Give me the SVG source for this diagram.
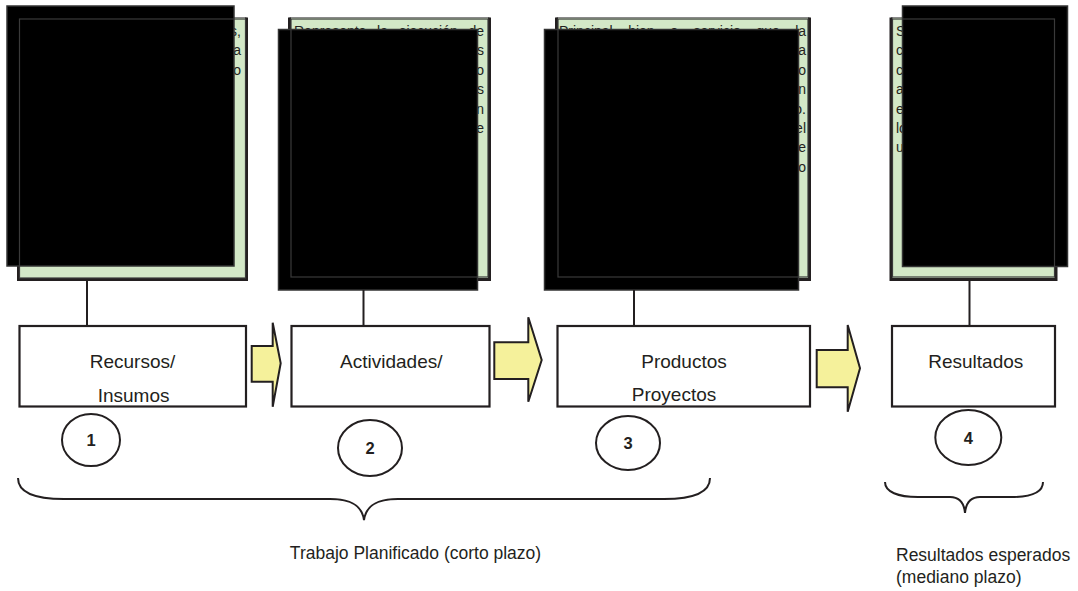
<svg xmlns="http://www.w3.org/2000/svg" width="1078" height="591" viewBox="0 0 1078 591">
<style>
.note{fill:#d3e8c7;stroke:none}
.noteb{fill:none;stroke:#231f20;stroke-width:3}
.notet{fill:none;stroke:#8a8a8a;stroke-width:1}
.mask{fill:#000;stroke:#333;stroke-width:1.5}
.inner{fill:none;stroke:#3a3a3a;stroke-width:1.2}
.box{fill:#fff;stroke:#231f20;stroke-width:2.2}
.lbl{font-family:"Liberation Sans",Arial,sans-serif;font-size:19px;fill:#231f20;text-anchor:middle}
.nt{font-family:"Liberation Sans",Arial,sans-serif;font-size:14px;fill:#231f20}
.end{text-anchor:end}
.arrow{fill:#f5f19b;stroke:#231f20;stroke-width:2;stroke-linejoin:miter}
.circ{fill:#fff;stroke:#231f20;stroke-width:2}
.num{font-family:"Liberation Sans",Arial,sans-serif;font-size:16.5px;font-weight:bold;fill:#231f20;text-anchor:middle}
.line{stroke:#231f20;stroke-width:2;fill:none}
.cap{font-family:"Liberation Sans",Arial,sans-serif;font-size:17.5px;fill:#231f20}
</style>

<g id="note1">
<rect class="note" x="18.5" y="17.5" width="228" height="262"/>
<path class="notet" d="M18.5,17.5 H246.5"/>
<path class="noteb" d="M18.5,17.5 V279.5 H246.5 V17.5"/>
<text class="nt end" x="241" y="36">s,</text>
<text class="nt end" x="241" y="55.4">a</text>
<text class="nt end" x="241" y="74.8">o</text>
<rect class="mask" x="7" y="6" width="227" height="260"/>
<rect class="inner" x="19.5" y="19" width="226" height="259"/>
</g>

<g id="note2">
<rect class="note" x="289.5" y="17.5" width="200" height="262"/>
<path class="notet" d="M289.5,17.5 H489.5"/>
<path class="noteb" d="M289.5,17.5 V279.5 H489.5 V17.5"/>
<text class="nt" x="294" y="35.5" word-spacing="6.8">Represente la ejecución de</text>
<text class="nt end" x="484" y="55.4">s</text>
<text class="nt end" x="484" y="74.8">o</text>
<text class="nt end" x="484" y="94.2">s</text>
<text class="nt end" x="484" y="113.6">n</text>
<text class="nt end" x="484" y="133">e</text>
<rect class="mask" x="278.5" y="29.5" width="199" height="260.5"/>
<rect class="inner" x="291" y="19" width="197" height="258"/>
</g>

<g id="note3">
<rect class="note" x="556.5" y="17.5" width="253" height="262"/>
<path class="notet" d="M556.5,17.5 H809.5"/>
<path class="noteb" d="M556.5,17.5 V279.5 H809.5 V17.5"/>
<text class="nt" x="559" y="35.5" word-spacing="11.6">Principal bien o servicio que la</text>
<text class="nt end" x="806" y="55.4">a</text>
<text class="nt end" x="806" y="74.8">o</text>
<text class="nt end" x="806" y="94.2">n</text>
<text class="nt end" x="806" y="113.6">o.</text>
<text class="nt end" x="806" y="133">el</text>
<text class="nt end" x="806" y="152.4">e</text>
<text class="nt end" x="806" y="171.8">o</text>
<rect class="mask" x="544.5" y="29.5" width="254" height="260.5"/>
<rect class="inner" x="558" y="19" width="250" height="258"/>
</g>

<g id="note4">
<rect class="note" x="891" y="17.5" width="165" height="262"/>
<path class="notet" d="M891,17.5 H1056"/>
<path class="noteb" d="M891,17.5 V279.5 H1056 V17.5"/>
<text class="nt" x="896" y="36">S</text>
<text class="nt" x="896" y="55.4">c</text>
<text class="nt" x="896" y="74.8">c</text>
<text class="nt" x="896" y="94.2">a</text>
<text class="nt" x="896" y="113.6">e</text>
<text class="nt" x="896" y="133">lo</text>
<text class="nt" x="896" y="152.4">u</text>
<rect class="mask" x="902.5" y="6" width="165" height="260.5"/>
<rect class="inner" x="892.5" y="19" width="162" height="258"/>
</g>

<g id="connectors">
<path class="line" d="M87,280 V326"/>
<path class="line" d="M363.5,290 V326"/>
<path class="line" d="M634,290 V326"/>
<path class="line" d="M969.5,280 V326"/>
<polygon class="arrow" points="251.7,346 272.7,346 272.7,322.7 280.7,363.3 272.7,406.7 272.7,381.7 251.7,381.7"/>
<polygon class="arrow" points="494.3,342.3 528.3,342.3 528.3,317.3 541.7,360 528.3,401.7 528.3,379 494.3,379"/>
<polygon class="arrow" points="816.7,350 847.7,350 847.7,325 860,368.3 847.7,411.7 847.7,387.3 816.7,387.3"/>
</g>

<g id="recursos">
<rect class="box" x="19.5" y="326" width="226.5" height="80.5"/>
<text class="lbl" x="132.5" y="368.3">Recursos/</text>
<text class="lbl" x="133.6" y="401.7">Insumos</text>
</g>
<g id="actividades">
<rect class="box" x="291.5" y="326" width="198" height="80.5"/>
<text class="lbl" x="391.3" y="368.3">Actividades/</text>
</g>
<g id="productos">
<rect class="box" x="557.5" y="326" width="252.5" height="80.5"/>
<text class="lbl" x="684" y="368.3">Productos</text>
<text class="lbl" x="674" y="400.7">Proyectos</text>
</g>
<g id="resultados">
<rect class="box" x="892" y="326" width="163" height="80.5"/>
<text class="lbl" x="975.8" y="368.3">Resultados</text>
</g>

<g id="circle1"><ellipse class="circ" cx="91" cy="440" rx="29" ry="26"/><text class="num" x="91" y="446">1</text></g>
<g id="circle2"><ellipse class="circ" cx="370" cy="448" rx="32" ry="28"/><text class="num" x="370" y="454">2</text></g>
<g id="circle3"><ellipse class="circ" cx="628" cy="443" rx="32" ry="27"/><text class="num" x="628" y="449">3</text></g>
<g id="circle4"><ellipse class="circ" cx="968.3" cy="437.5" rx="33" ry="27.5"/><text class="num" x="968.3" y="443.5">4</text></g>

<g id="brace1">
<path class="line" d="M18,478 C18,493 35,499 64,499 L330,499 C352,499 362,506 364,520 C366,506 376,499 398,499 L664,499 C693,499 710,493 710,478"/>
<text class="cap" x="415.5" y="559" text-anchor="middle">Trabajo Planificado (corto plazo)</text>
</g>
<g id="brace2">
<path class="line" d="M885,482 C885,492 898,497 918,497 L950,497 C959,497 964,502 965,513 C966,502 971,497 980,497 L1011,497 C1031,497 1043,492 1043,482"/>
<text class="cap" x="896" y="561">Resultados esperados</text>
<text class="cap" x="896" y="583">(mediano plazo)</text>
</g>
</svg>
